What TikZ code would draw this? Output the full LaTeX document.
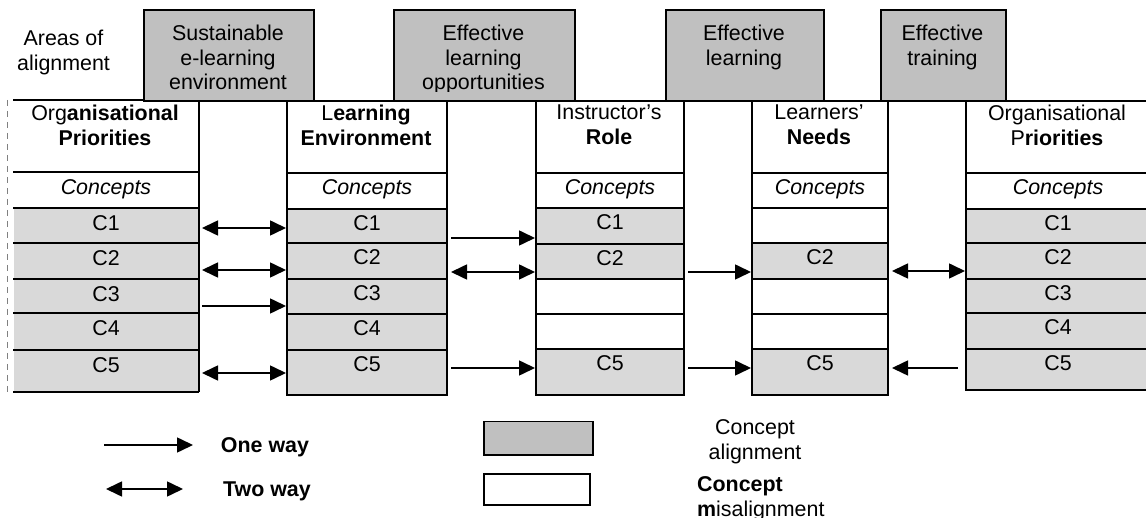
\documentclass[tikz,border=0pt]{standalone}
\usepackage{fontspec}
\setmainfont{Liberation Sans}
\usetikzlibrary{arrows.meta}
\definecolor{cellgray}{HTML}{D9D9D9}
\definecolor{areagray}{HTML}{C0C0C0}
\tikzset{
  cell/.style={draw, line width=2pt, anchor=north west, inner xsep=0pt, inner ysep=0pt, text height=21.7pt},
  areabox/.style={draw, line width=1.8pt, fill=areagray, anchor=north west, inner sep=0pt},
  legbox/.style={draw, line width=1.5pt, anchor=north west, inner sep=0pt},
  txt/.style={inner sep=0pt, align=center},
  rim/.style={line width=2pt},
  oneway/.style={->, line width=1.6pt, shorten <=3pt},
  twoway/.style={<->, line width=1.6pt, shorten <=3pt}
}
\newcommand{\headcell}[4][]{\node[cell, #1, minimum width=#4pt, minimum height=72pt] (#2) at (#3,100) {};}
\newcommand{\cellA}[7][]{\pgfmathsetmacro{\cdep}{#6-21.7}\node[cell, fill=cellgray, #1, minimum width=#5pt, minimum height=#6pt, text depth=\cdep pt] (#2) at (#3,#4) {#7};}
\newcommand{\cellM}[7][]{\pgfmathsetmacro{\cdep}{#6-21.7}\node[cell, fill=white, #1, minimum width=#5pt, minimum height=#6pt, text depth=\cdep pt] (#2) at (#3,#4) {#7};}
\newcommand{\link}[4]{\draw[#1] ([yshift=#4pt]#2.east) -- ([yshift=#4pt]#2.east -| #3.west);}

\begin{document}
\fontsize{21.4}{24.8}\selectfont
\begin{tikzpicture}[x=1pt, y=-1pt, >={Triangle[length=16pt,width=15pt]}]
        \useasboundingbox (0,0) rectangle (1146,518);
        % column 1
        \headcell[draw=none]{oh}{13}{184}
        \cellM[draw=none]{oc}{13}{172}{184}{36}{\textit{Concepts}}
        \cellA[draw=none]{o1}{13}{208}{184}{35}{C1}
        \cellA[draw=none]{o2}{13}{243}{184}{36}{C2}
        \cellA[draw=none]{o3}{13}{279}{184}{34}{C3}
        \cellA[draw=none]{o4}{13}{313}{184}{37}{C4}
        \cellA[draw=none]{o5}{13}{350}{184}{40}{C5}
        \foreach \c in {oh,oc,o1,o2,o3,o4,o5}
            \draw[rim] (\c.north west) -- (\c.north east) -- (\c.south east);
        \draw[rim] (o5.south west) -- (o5.south east);
        \draw[gray, line width=1pt, dash pattern=on 6pt off 5pt] (7,100) -- (7,395);
        % column 2
        \headcell{lh}{286}{160}
        \cellM{lc}{286}{172}{160}{36}{\textit{Concepts}}
        \cellA{l1}{286}{208}{160}{34}{C1}
        \cellA{l2}{286}{242}{160}{36}{C2}
        \cellA{l3}{286}{278}{160}{35}{C3}
        \cellA{l4}{286}{313}{160}{36}{C4}
        \cellA{l5}{286}{349}{160}{45}{C5}
        % column 3
        \headcell{ih}{535}{148}
        \cellM{ic}{535}{172}{148}{35}{\textit{Concepts}}
        \cellA{i1}{535}{207}{148}{36}{C1}
        \cellA{i2}{535}{243}{148}{35}{C2}
        \cellM{i3}{535}{278}{148}{35}{}
        \cellM{i4}{535}{313}{148}{35}{}
        \cellA{i5}{535}{348}{148}{46}{C5}
        % column 4
        \headcell{nh}{751}{136}
        \cellM{nc}{751}{172}{136}{35}{\textit{Concepts}}
        \cellM{n1}{751}{207}{136}{35}{}
        \cellA{n2}{751}{242}{136}{36}{C2}
        \cellM{n3}{751}{278}{136}{35}{}
        \cellM{n4}{751}{313}{136}{35}{}
        \cellA{n5}{751}{348}{136}{46}{C5}
        % column 5
        \headcell{ph}{965}{184}
        \cellM{pc}{965}{172}{184}{36}{\textit{Concepts}}
        \cellA{p1}{965}{208}{184}{34}{C1}
        \cellA{p2}{965}{242}{184}{36}{C2}
        \cellA{p3}{965}{278}{184}{34}{C3}
        \cellA{p4}{965}{312}{184}{36}{C4}
        \cellA{p5}{965}{348}{184}{41}{C5}
        % headers
        \node[txt] (oht) at (105,125) {Org\textbf{anisational}\\\textbf{Priorities}};
        \node[txt] (lht) at (366,125) {L\textbf{earning}\\\textbf{Environment}};
        \node[txt] (iht) at (609,125) {Instructor’s\\\textbf{Role}};
        \node[txt] (nht) at (819,125) {Learners’\\\textbf{Needs}};
        \node[txt] (pht) at (1057,125) {Organisational\\P\textbf{riorities}};
        % areas of alignment
        \node[txt] (areas) at (63.5,52.7) {Areas of\\alignment};
        \node[areabox, minimum width=170pt, minimum height=91pt] (a1) at (143,9) {};
        \node[txt] (a1t) at (228,57.5) {Sustainable\\e-learning\\environment};
        \node[areabox, minimum width=181pt, minimum height=91pt] (a2) at (393,9) {};
        \begin{scope}
            \clip (393,9) rectangle (574,91.5);
            \node[txt] (a2t) at (483.5,59.5) {Effective\\learning\\opportunities};
        \end{scope}
        \node[areabox, minimum width=158pt, minimum height=91pt] (a3) at (665,9) {};
        \node[txt] (a3t) at (744,47.7) {Effective\\learning};
        \node[areabox, minimum width=125pt, minimum height=91pt] (a4) at (880,9) {};
        \node[txt] (a4t) at (942.5,47.7) {Effective\\training};
        % links 1-2
        \link{twoway}{o1}{l1}{-1.5}
        \link{twoway}{o2}{l2}{-8}
        \link{oneway}{o3}{l3}{-9}
        \link{twoway}{o5}{l5}{-2}
        % links 2-3
        \link{oneway}{l1}{i1}{-12}
        \link{twoway}{l2}{i2}{-11}
        \link{oneway}{l5}{i5}{4.5}
        % links 3-4
        \link{oneway}{i2}{n2}{-10.5}
        \link{oneway}{i5}{n5}{4}
        % links 4-5
        \link{twoway}{n2}{p2}{-10}
        \draw[oneway, shorten <=7pt, shorten >=3pt] ([yshift=1.5pt]p5.west) -- ([yshift=1.5pt]p5.west -| n5.east);
        % legend
        \coordinate (k1) at (104,445);
        \coordinate (k2) at (193,445);
        \coordinate (k3) at (106,489);
        \coordinate (k4) at (183,489);
        \draw[oneway, shorten <=0pt] (k1) -- (k2);
        \draw[twoway, shorten <=0pt] (k3) -- (k4);
        \node[txt] (one) at (265,447) {\textbf{One way}};
        \node[txt] (two) at (267,491) {\textbf{Two way}};
        \node[legbox, fill=areagray, minimum width=109pt, minimum height=33pt] (g1) at (483,421) {};
        \node[legbox, fill=white, minimum width=106pt, minimum height=31pt] (w1) at (483,473) {};
        \node[txt] (galign) at (755,441.7) {Concept\\alignment};
        \node[txt, align=left, anchor=west] (wmis) at (697,498.7) {\textbf{Concept}\\\textbf{m}isalignment};
\end{tikzpicture}
\end{document}
